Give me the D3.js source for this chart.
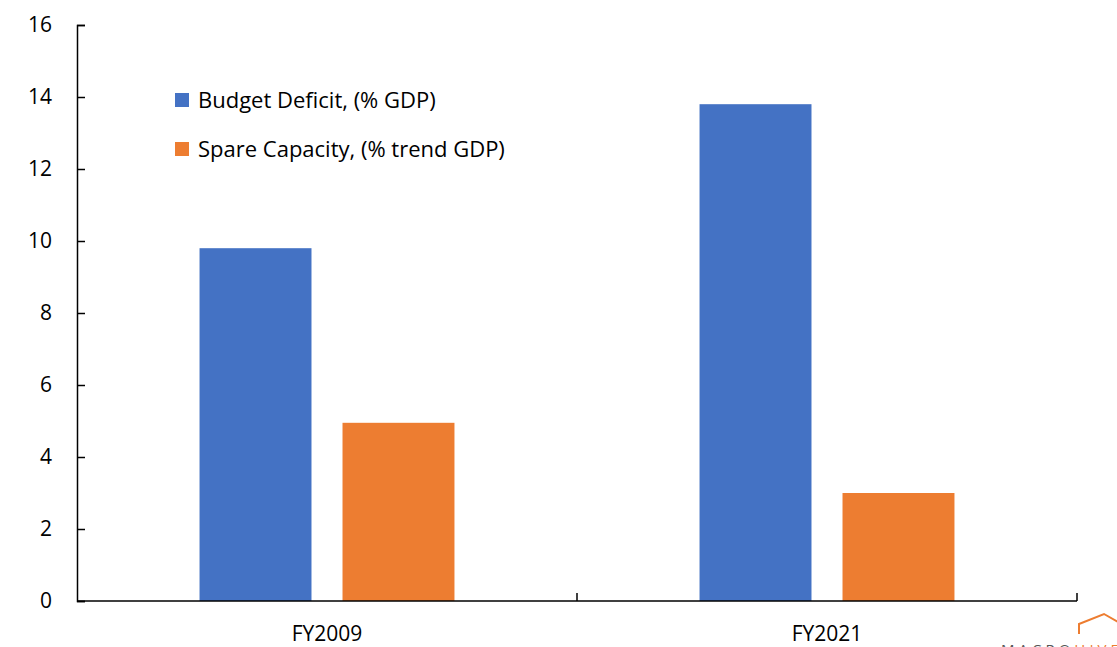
<!DOCTYPE html>
<html>
<head>
<meta charset="utf-8">
<script src="https://cdn.jsdelivr.net/npm/d3@7"></script>
<style>
  html, body { margin: 0; padding: 0; background: #fff; }
  svg { display: block; font-family: "Open Sans", Lato, sans-serif; }
</style>
</head>
<body>
<svg id="chart" width="1117" height="647"></svg>
<script>
const categories = ["FY2009", "FY2021"];
const seriesNames = ["Budget Deficit, (% GDP)", "Spare Capacity, (% trend GDP)"];
const budgetDeficit = [9.8, 13.8];
const spareCapacity = [4.95, 3.0];
const yTicks = [0, 2, 4, 6, 8, 10, 12, 14, 16];

const palette = ["#4472C4", "#ED7D31"];

const svg = d3.select("#chart");
const width = 1117, height = 647;
const margin = { top: 25, right: 40, bottom: 46, left: 77 };

const rows = categories.map((c, i) => ({
  cat: c,
  values: [budgetDeficit[i], spareCapacity[i]]
}));

const x0 = d3.scaleBand()
  .domain(categories)
  .range([margin.left, width - margin.right])
  .padding(0);

const x1 = d3.scaleBand()
  .domain(d3.range(seriesNames.length))
  .range([0, x0.bandwidth()])
  .paddingInner(0.217)
  .paddingOuter(0.857);

const y = d3.scaleLinear()
  .domain([0, 16])
  .range([height - margin.bottom, margin.top]);

// bars
const groups = svg.append("g")
  .selectAll("g")
  .data(rows)
  .enter()
  .append("g")
  .attr("transform", d => `translate(${x0(d.cat)},0)`);

groups.selectAll("rect")
  .data(d => d.values.map((v, i) => ({ v, i })))
  .enter()
  .append("rect")
  .attr("x", d => x1(d.i))
  .attr("width", x1.bandwidth())
  .attr("y", d => y(d.v))
  .attr("height", d => y(0) - y(d.v))
  .attr("fill", d => palette[d.i]);

// y axis (ticks point inward)
const yAxis = svg.append("g")
  .attr("transform", `translate(${margin.left},0)`)
  .call(d3.axisRight(y).tickValues(yTicks).tickSize(8).tickFormat(""));
yAxis.select(".domain").attr("stroke", "#000").attr("stroke-width", 1.5);
yAxis.selectAll("line").attr("stroke", "#000").attr("stroke-width", 1.5);

svg.append("g")
  .selectAll("text")
  .data(yTicks)
  .enter()
  .append("text")
  .attr("x", 52)
  .attr("y", d => y(d))
  .attr("dy", "0.35em")
  .attr("text-anchor", "end")
  .attr("font-size", 21)
  .attr("fill", "#000")
  .text(d => d);

// x axis: ticks at category boundaries, pointing up
const xBounds = [margin.left, ...categories.map(c => x0(c) + x0.bandwidth())];
svg.append("line")
  .attr("x1", margin.left).attr("x2", width - margin.right)
  .attr("y1", y(0)).attr("y2", y(0))
  .attr("stroke", "#000").attr("stroke-width", 1.5);
svg.append("g")
  .selectAll("line")
  .data(xBounds.slice(1))
  .enter()
  .append("line")
  .attr("x1", d => d).attr("x2", d => d)
  .attr("y1", y(0)).attr("y2", y(0) - 8)
  .attr("stroke", "#000").attr("stroke-width", 1.5);

svg.append("g")
  .selectAll("text")
  .data(categories)
  .enter()
  .append("text")
  .attr("x", d => x0(d) + x0.bandwidth() / 2)
  .attr("y", 641)
  .attr("text-anchor", "middle")
  .attr("font-size", 21)
  .attr("fill", "#000")
  .text(d => d);

// legend
const legend = svg.append("g").attr("transform", "translate(175,93)");
const items = legend.selectAll("g")
  .data(seriesNames)
  .enter()
  .append("g")
  .attr("transform", (d, i) => `translate(0,${i * 49})`);
items.append("rect")
  .attr("width", 14).attr("height", 14)
  .attr("fill", (d, i) => palette[i]);
items.append("text")
  .attr("x", 23)
  .attr("y", 7)
  .attr("dy", "0.35em")
  .attr("font-size", 22)
  .attr("fill", "#000")
  .text(d => d);

// watermark, clipped at the bottom right
const logo = svg.append("g");
logo.append("polyline")
  .attr("points", "1079,634 1079,624 1104,614 1125,626")
  .attr("fill", "none")
  .attr("stroke", "#ED7D31")
  .attr("stroke-width", 2);
logo.append("text")
  .attr("x", 1001)
  .attr("y", 655)
  .attr("font-size", 15)
  .attr("letter-spacing", 4)
  .attr("fill", "#555")
  .text("MACRO")
  .append("tspan")
  .attr("fill", "#ED7D31")
  .text("HIVE");
</script>
</body>
</html>
